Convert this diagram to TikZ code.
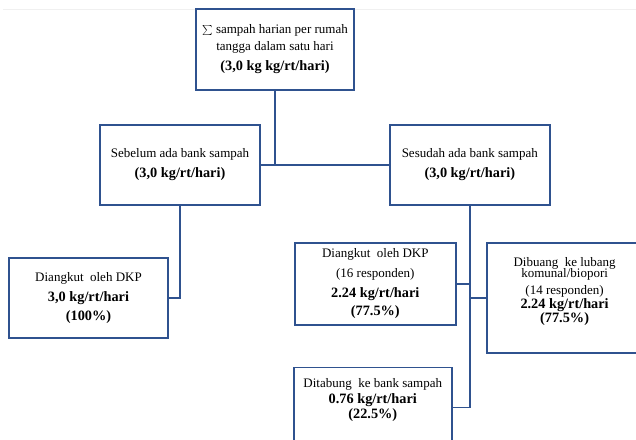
\documentclass[tikz,border=0pt]{standalone}
\usepackage{fontspec}
\setmainfont{Liberation Serif}
\usetikzlibrary{positioning}
\definecolor{boxblue}{RGB}{47,82,143}
\newcommand\bv[1]{{\bfseries\fontsize{14.3}{17}\selectfont #1}}

\begin{document}
\begin{tikzpicture}[x=1pt,y=1pt,line width=1.8pt,
  b/.style={draw=boxblue,align=center,minimum width=159pt,minimum height=80pt,inner sep=2pt,
    font=\fontsize{13}{17}\selectfont},
  l/.style={draw=boxblue}]
  \useasboundingbox (0,0) rectangle (636,-439);
  \draw[black!6,line width=0.8pt] (3,-9) -- (636,-9);
  \node[b,minimum width=158pt,minimum height=81pt] (total) at (275,-49.5)
       {$\sum$ sampah harian per rumah\\tangga dalam satu hari\\[3pt]\bv{(3,0 kg kg/rt/hari)}};
  \node[b,minimum width=160pt,below=33pt of total,xshift=-95pt] (sebelum)
       {Sebelum ada bank sampah\\[3pt]\bv{(3,0 kg/rt/hari)}};
  \node[b,minimum width=160pt,right=128pt of sebelum] (sesudah)
       {Sesudah ada bank sampah\\[3pt]\bv{(3,0 kg/rt/hari)}};
  \node[b,below=51pt of sebelum,xshift=-91.5pt] (dkp1)
       {Diangkut\ \ oleh DKP\\[3pt]\bv{3,0 kg/rt/hari}\\[2pt]\bv{(100\%)}};
  \node[b,minimum width=161pt,minimum height=82pt,below=36pt of sesudah,xshift=-94.5pt] (dkp2)
       {Diangkut\ \ oleh DKP\\[3pt](16 responden)\\[3pt]\bv{2.24 kg/rt/hari}\\[1pt]\bv{(77.5\%)}};
  \node[b,minimum width=156pt,minimum height=110pt,right=29pt of dkp2,yshift=-14pt,
        font=\fontsize{13}{14}\selectfont] (lubang)
       {Dibuang\ \ ke lubang\\[-2.5pt]komunal/biopori\\[3pt](14 responden)\\\bv{2.24 kg/rt/hari}\\\bv{(77.5\%)}\\[1pt]};
  \node[b,minimum width=158pt,below=41pt of dkp2,xshift=-2.5pt] (tabung)
       {Ditabung\ \ ke bank sampah\\[-1pt]\bv{0.76 kg/rt/hari}\\[-2pt]\bv{(22.5\%)}\\[1pt]};
  % connectors
  \draw[l] (total.south) -- (total.south |- sebelum.east);
  \draw[l] (sebelum.east) -- (sesudah.west);
  \draw[l] (sebelum.south) |- (dkp1.east);
  \draw[l] (sesudah.south) |- (tabung.east);
  \draw[l] (dkp2.east) -- (dkp2.east -| sesudah.south);
  \draw[l] (lubang.west) -- (lubang.west -| sesudah.south);
\end{tikzpicture}
\end{document}
